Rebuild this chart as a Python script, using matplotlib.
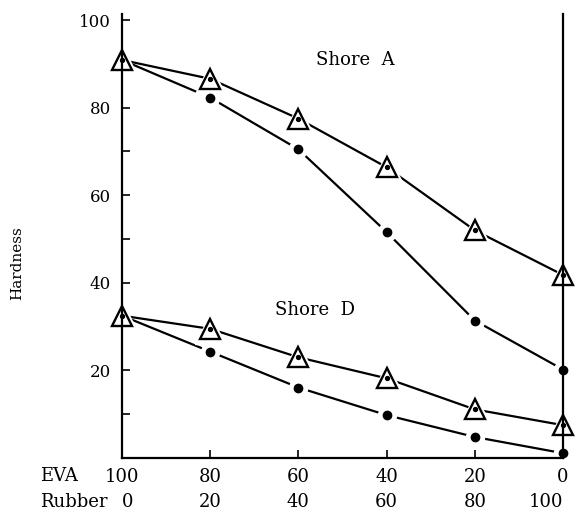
import numpy as np
import matplotlib
matplotlib.use("Agg")
import matplotlib.pyplot as plt
import matplotlib.transforms as mtrans

plt.rcParams['font.family'] = ['DejaVu Serif']

eva = [100, 80, 60, 40, 20, 0]
rubber = [0, 20, 40, 60, 80, 100]

shoreA_tri = [90.9, 86.6, 77.5, 66.4, 52.0, 41.8]
shoreA_dot = [90.9, 82.3, 70.5, 51.6, 31.4, 20.2]
shoreD_tri = [32.5, 29.5, 23.0, 18.2, 11.1, 7.5]
shoreD_dot = [32.5, 24.3, 16.1, 9.8, 4.8, 1.1]

fig = plt.figure(figsize=(5.77, 5.13), dpi=100)
ax = fig.add_axes([0.2114, 0.1072, 0.7643, 0.8655])

# lines are broken around each marker like the printed figure
for ys in [shoreA_tri, shoreA_dot, shoreD_tri, shoreD_dot]:
    ax.plot(eva, ys, color='black', lw=1.6, zorder=1)
for ys in [shoreA_tri, shoreD_tri]:
    ax.plot(eva, ys, ls='none', marker='^', ms=21, mfc='white', mec='white', zorder=2, clip_on=False)
    ax.plot(eva, ys, ls='none', marker='^', ms=15, mfc='none', mec='black', mew=1.7, zorder=4, clip_on=False)
    ax.plot(eva, ys, ls='none', marker='o', ms=2.8, color='black', zorder=4, clip_on=False)
for ys in [shoreA_dot, shoreD_dot]:
    ax.plot(eva[1:], ys[1:], ls='none', marker='o', ms=13, mfc='white', mec='white', zorder=2, clip_on=False)
    ax.plot(eva[1:], ys[1:], ls='none', marker='o', ms=6, color='black', zorder=4, clip_on=False)

ax.set_xlim(100, 0)
ax.set_ylim(0, 101.4)
ax.spines['top'].set_visible(False)
for s in ['left', 'bottom', 'right']:
    ax.spines[s].set_linewidth(1.6)
    ax.spines[s].set_zorder(3)

ax.set_yticks([20, 40, 60, 80, 100])
ax.set_yticks([10, 30, 50, 70, 90], minor=True)
ax.set_xticks(eva)
ax.set_xticklabels([str(e) for e in eva], fontsize=13)
ax.tick_params(axis='y', direction='in', length=6, width=1.2, labelsize=12, pad=8)
ax.tick_params(axis='y', which='minor', direction='in', length=6, width=1.2)
ax.tick_params(axis='x', direction='in', length=6, width=1.2, pad=7)
ax.tick_params(axis='y', right=False)

# second row of x labels (rubber content)
trans = mtrans.blended_transform_factory(ax.transData, ax.transAxes)
for i, r in enumerate(rubber):
    ha = 'center'
    if i == 0:
        ha = 'left'
    elif i == len(rubber) - 1:
        ha = 'right'
    ax.text(eva[i], -0.079, str(r), transform=trans, fontsize=13, ha=ha, va='top')

ax.text(-0.186, -0.02, "EVA", transform=ax.transAxes, fontsize=13, va='top', ha='left')
ax.text(-0.186, -0.079, "Rubber", transform=ax.transAxes, fontsize=13, va='top', ha='left')
ax.set_ylabel("Hardness", fontsize=11)
ax.yaxis.set_label_coords(-0.222, 0.44)

ax.text(47.2, 90.9, "Shore  A", fontsize=13, ha='center', va='center')
ax.text(56.2, 33.8, "Shore  D", fontsize=13, ha='center', va='center')

fig.savefig("out.png", dpi=100)
